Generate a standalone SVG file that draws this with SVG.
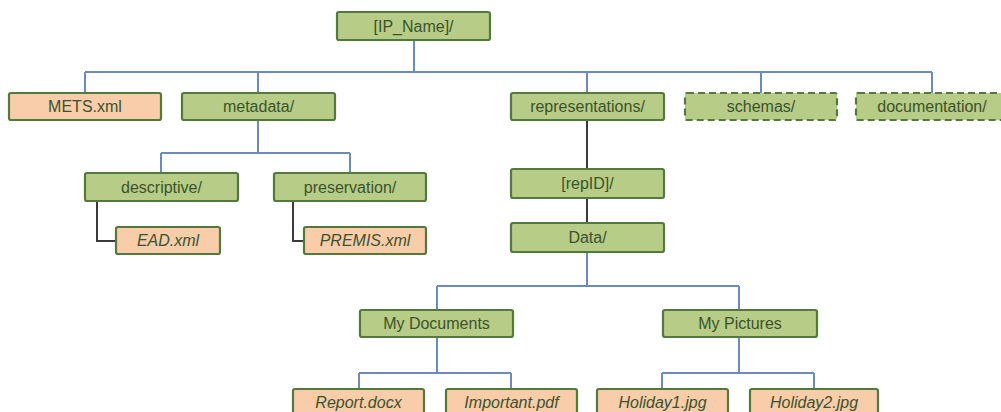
<svg xmlns="http://www.w3.org/2000/svg" width="1001" height="412" viewBox="0 0 1001 412">
<style>
.b{stroke:#54793d;stroke-width:2.2}
.f{fill:#b7cc86}
.p{fill:#f9ccaa}
.d{stroke-dasharray:7 4}
.t{font-family:"Liberation Sans",Arial,sans-serif;font-size:16px;fill:#3b532c;text-anchor:middle}
.i{font-style:italic}
.cb{fill:none;stroke:#6d8abf;stroke-width:2}
.ck{fill:none;stroke:#3a3a3a;stroke-width:2}
</style>
<rect width="1001" height="412" fill="#ffffff"/>
<g id="connectors">
<path class="cb" d="M414 40V72M85 72H932M85 72V93M258 72V93M587 72V93M761 72V93M932 72V93"/>
<path class="cb" d="M258 120V153M161 153H350M161 153V173M350 153V173"/>
<path class="ck" d="M97 201V241H116M293 201V241H304"/>
<path class="ck" d="M587 120V169M587 198V223"/>
<path class="cb" d="M587 252V286M437 286H739M437 286V310M739 286V310"/>
<path class="cb" d="M437 337V373M359 373H511M359 373V389M511 373V389"/>
<path class="cb" d="M739 337V373M662 373H814M662 373V389M814 373V389"/>
</g>
<g id="ip_name"><rect class="b f" x="337" y="12" width="153" height="28" rx="2"/><text class="t" x="413.5" y="32">[IP_Name]/</text></g>
<g id="mets"><rect class="b p" x="9" y="93" width="152" height="27" rx="2"/><text class="t" x="85" y="112">METS.xml</text></g>
<g id="metadata"><rect class="b f" x="182" y="93" width="153" height="27" rx="2"/><text class="t" x="258.5" y="112">metadata/</text></g>
<g id="representations"><rect class="b f" x="511" y="93" width="153" height="27" rx="2"/><text class="t" x="587.5" y="112">representations/</text></g>
<g id="schemas"><rect class="b f d" x="685" y="93" width="152" height="27" rx="2"/><text class="t" x="761" y="112">schemas/</text></g>
<g id="documentation"><rect class="b f d" x="856" y="93" width="152" height="27" rx="2"/><text class="t" x="932" y="112">documentation/</text></g>
<g id="descriptive"><rect class="b f" x="85" y="173" width="153" height="28" rx="2"/><text class="t" x="161.5" y="193">descriptive/</text></g>
<g id="preservation"><rect class="b f" x="274" y="173" width="152" height="28" rx="2"/><text class="t" x="350" y="193">preservation/</text></g>
<g id="ead"><rect class="b p" x="116" y="227" width="104" height="27" rx="2"/><text class="t i" x="168" y="246">EAD.xml</text></g>
<g id="premis"><rect class="b p" x="304" y="227" width="122" height="27" rx="2"/><text class="t i" x="365" y="246">PREMIS.xml</text></g>
<g id="repid"><rect class="b f" x="511" y="169" width="153" height="29" rx="2"/><text class="t" x="587.5" y="189">[repID]/</text></g>
<g id="data"><rect class="b f" x="511" y="223" width="153" height="29" rx="2"/><text class="t" x="587.5" y="243">Data/</text></g>
<g id="my_documents"><rect class="b f" x="360" y="310" width="153" height="27" rx="2"/><text class="t" x="436.5" y="329">My Documents</text></g>
<g id="my_pictures"><rect class="b f" x="663" y="310" width="154" height="27" rx="2"/><text class="t" x="740" y="329">My Pictures</text></g>
<g id="report"><rect class="b p" x="293" y="389" width="131" height="30" rx="2"/><text class="t i" x="358.5" y="408">Report.docx</text></g>
<g id="important"><rect class="b p" x="446" y="389" width="131" height="30" rx="2"/><text class="t i" x="511.5" y="408">Important.pdf</text></g>
<g id="holiday1"><rect class="b p" x="597" y="389" width="131" height="30" rx="2"/><text class="t i" x="662.5" y="408">Holiday1.jpg</text></g>
<g id="holiday2"><rect class="b p" x="750" y="389" width="128" height="30" rx="2"/><text class="t i" x="814" y="408">Holiday2.jpg</text></g>
</svg>
